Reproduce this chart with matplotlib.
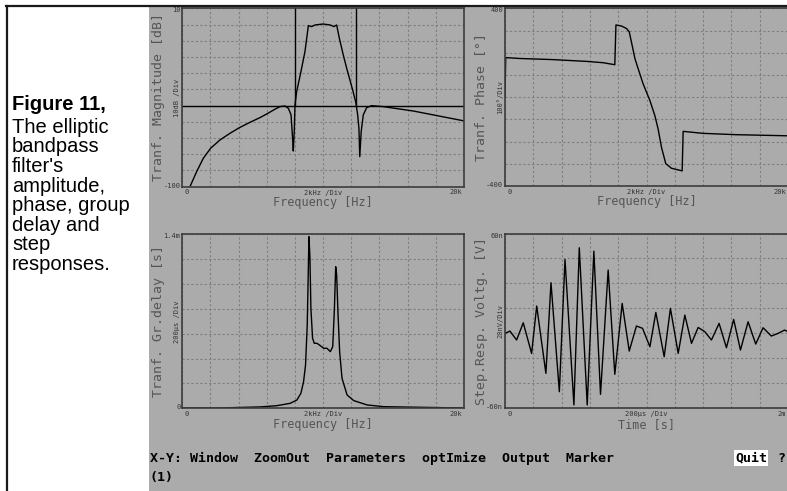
"""
Elliptic bandpass filter: magnitude, phase, group delay and step response
(recreation of an old DOS circuit simulator screen).
"""

import matplotlib.pyplot as plt
from matplotlib.transforms import offset_copy


# magnitude response, kHz / dB
MAG_F = [0.55, 1.02, 1.49, 2.01, 2.67, 3.38, 4.05, 4.8, 5.51, 6.04,
         6.58, 6.93, 7.29, 7.53, 7.72, 7.83, 7.88, 7.95, 8.0, 8.12,
         8.4, 8.71, 8.95, 9.18, 9.42, 10.0, 10.5, 10.77, 10.96, 11.15,
         11.43, 11.67, 11.9, 12.14, 12.33, 12.45, 12.54, 12.6, 12.7, 12.85,
         13.09, 13.44, 14.27, 16.4, 20.0]
MAG_DB = [-100, -90.8, -82.6, -76.4, -71.3, -67.2, -63.7, -60.4, -57.5, -55.0,
          -52.3, -50.7, -50.3, -51.7, -55.8, -70.2, -78.1, -66, -49.7, -41.4,
          -30.1, -16.7, -0.7, -1.3, -0.3, 0.3, -0.3, -1.3, -0.3, -8.5,
          -18.8, -27, -34.2, -41.9, -48.6, -55.8, -64.1, -81.6, -66.2, -55.8,
          -51.3, -50.1, -50.7, -53.4, -59.5]
# stopband template: -50 dB limit and band edges
MASK_DB = -50
MASK_EDGES = [8.0, 12.33]

# phase, kHz / degrees
PH_F = [0, 0.05, 1.06, 3.41, 5.76, 6.94, 7.76, 7.84, 8.24, 8.59,
        8.78, 9.01, 9.18, 9.41, 9.76, 10.24, 10.59, 10.82, 11.06, 11.36,
        11.76, 12.52, 12.59, 14.0, 16.35, 20]
PH_DEG = [0, 178, 174, 169, 161, 155, 146, 325, 320, 309,
          294, 226, 174, 128, 60, -15, -83, -143, -226, -299,
          -320, -332, -154, -163, -169, -174]

# group delay, kHz / ms
GD_F = [0, 2.44, 5.53, 6.71, 7.66, 8.14, 8.42, 8.61, 8.75, 8.87,
        8.94, 8.99, 9.06, 9.13, 9.25, 9.37, 9.56, 9.8, 10.04, 10.27,
        10.51, 10.68, 10.8, 10.89, 10.96, 11.05, 11.17, 11.34, 11.7, 12.17,
        13.12, 14.3, 18.6, 20]
GD_MS = [0.002, 0.002, 0.011, 0.021, 0.040, 0.067, 0.121, 0.214, 0.349, 0.670,
         1.072, 1.381, 1.22, 0.804, 0.563, 0.523, 0.523, 0.504, 0.483, 0.483,
         0.456, 0.496, 0.804, 1.139, 1.072, 0.777, 0.456, 0.241, 0.107, 0.062,
         0.027, 0.013, 0.005, 0.003]

# step response, ms / nV
STEP_T = [0, 0.035, 0.082, 0.129, 0.188, 0.224, 0.289, 0.325, 0.384, 0.424,
          0.487, 0.525, 0.581, 0.628, 0.675, 0.729, 0.776, 0.828, 0.878, 0.929,
          0.972, 1.024, 1.066, 1.125, 1.169, 1.224, 1.271, 1.318, 1.365, 1.412,
          1.459, 1.513, 1.565, 1.616, 1.664, 1.718, 1.772, 1.824, 1.882, 1.929,
          1.976, 2.0]
STEP_NV = [-8.6, -7.0, -13.1, -1.3, -22.3, 10.2, -36.0, 26.2, -48.6, 42.2,
           -57.7, 50.2, -57.7, 47.9, -50.4, 34.9, -36.7, 12.0, -20.7, -3.5,
           -5.1, -17.7, 5.8, -24.6, 8.6, -22.3, 4.0, -15.4, -4.5, -7.4,
           -13.1, -1.7, -18.4, 1.0, -20.0, -0.6, -15.9, -4.7, -10.4, -8.6,
           -6.3, -7.4]

CAPTION = ["Figure 11,", "The elliptic", "bandpass", "filter's", "amplitude,",
           "phase, group", "delay and", "step", "responses."]
MENU = "X-Y: Window  ZoomOut  Parameters  optImize  Output  Marker"

W, H = 787, 491
SCREEN = "#ababab"
INK = "#555555"
MONO = "DejaVu Sans Mono"


def fx(x):
    return x / W


def fy(y):
    return 1 - y / H


def panel(fig, box, xlim, ylim, nx, ny, labels):
    x0, y0, x1, y1 = box
    ax = fig.add_axes([fx(x0), fy(y1), (x1 - x0) / W, (y1 - y0) / H])
    ax.set_facecolor(SCREEN)
    ax.set_xlim(xlim)
    ax.set_ylim(ylim)
    ax.set_xticks([xlim[0] + i * (xlim[1] - xlim[0]) / nx for i in range(nx + 1)])
    ax.set_yticks([ylim[0] + i * (ylim[1] - ylim[0]) / ny for i in range(ny + 1)])
    ax.tick_params(length=0, labelbottom=False, labelleft=False)
    ax.grid(True, color="#7e7e7e", linestyle=(0, (2, 2)), linewidth=0.8)
    for s in ax.spines.values():
        s.set_color("#3c3c3c")
        s.set_linewidth(1.2)

    ytop, ybot, xleft, xright, ydiv, xdiv, xlab, ylab = labels

    def at(dx, dy):
        return offset_copy(ax.transAxes, fig=fig, x=dx, y=dy, units="dots")

    small = dict(fontsize=5, color="#333333", family=MONO)
    ax.text(0, 1, ytop, transform=at(-2, -2), ha="right", va="center", **small)
    ax.text(0, 0, ybot, transform=at(-2, 1), ha="right", va="center", **small)
    ax.text(0, 0, xleft, transform=at(2, -6), ha="left", va="center", **small)
    ax.text(1, 0, xright, transform=at(-2, -6), ha="right", va="center", **small)
    ax.text(0.5, 0, xdiv, transform=at(0, -6), ha="center", va="center", **small)
    ax.text(0, 0.5, ydiv, transform=at(-5, 0), ha="center", va="center",
            rotation=90, **small)
    ax.text(0.5, 0, xlab, transform=at(0, -16), ha="center", va="center",
            fontsize=8.5, color=INK, family=MONO)
    ax.text(0, 0.5, ylab, transform=at(-24, 0), ha="center", va="center",
            rotation=90, fontsize=9.5, color=INK, family=MONO)
    return ax


fig = plt.figure(figsize=(W / 100, H / 100), dpi=100)
fig.patch.set_facecolor("white")

# simulator screen and page frame
fig.add_artist(plt.Rectangle((fx(149), 0), 1 - fx(149), fy(6), transform=fig.transFigure,
                             facecolor=SCREEN, edgecolor="none", zorder=0))
fig.add_artist(plt.Line2D([fx(7), fx(7)], [0, fy(6)], transform=fig.transFigure,
                          color="#1a1a1a", linewidth=1.6))
fig.add_artist(plt.Line2D([fx(6), 1], [fy(6), fy(6)], transform=fig.transFigure,
                          color="#1a1a1a", linewidth=1.6))

# caption
fig.text(fx(12), fy(110), CAPTION[0], fontsize=14.5, fontweight="bold",
         family="Liberation Sans", va="baseline")
for i, line in enumerate(CAPTION[1:]):
    fig.text(fx(12), fy(133 + 19.5 * i), line, fontsize=14.5,
             family="Liberation Sans", va="baseline")

ax1 = panel(fig, (182.3, 8.3, 464, 186.5), (0, 20), (-100, 10), 10, 11,
            ["10", "-100", "0", "20k", "10dB /Div", "2kHz /Div",
             "Frequency [Hz]", "Tranf. Magnitude [dB]"])
ax1.axhline(MASK_DB, color="black", linewidth=1.0)
for edge in MASK_EDGES:
    ax1.plot([edge, edge], [MASK_DB, 10], color="black", linewidth=1.0)
ax1.plot(MAG_F, MAG_DB, color="black", linewidth=1.0)

ax2 = panel(fig, (505, 8.3, 788, 186), (0, 20), (-400, 400), 10, 8,
            ["400", "-400", "0", "20k", "100°/Div", "2kHz /Div",
             "Frequency [Hz]", "Tranf. Phase [°]"])
ax2.plot(PH_F, PH_DEG, color="black", linewidth=1.0)

ax3 = panel(fig, (182.3, 234.3, 464, 408.3), (0, 20), (0, 1.4), 10, 7,
            ["1.4m", "0", "0", "20k", "200µs /Div", "2kHz /Div",
             "Frequency [Hz]", "Tranf. Gr.delay [s]"])
ax3.plot(GD_F, GD_MS, color="black", linewidth=1.0)

ax4 = panel(fig, (505, 233.5, 788, 408.3), (0, 2), (-60, 60), 10, 7,
            ["60n", "-60n", "0", "2m", "20nV/Div", "200µs /Div",
             "Time [s]", "Step.Resp. Voltg. [V]"])
ax4.plot(STEP_T, STEP_NV, color="black", linewidth=1.0)

# menu bar
menu = dict(fontsize=9.5, fontweight="bold", family=MONO, va="center", ha="left")
fig.text(fx(150), fy(458), MENU, **menu)
fig.text(fx(735), fy(458), "Quit",
         bbox=dict(facecolor="white", edgecolor="none", pad=0.8), **menu)
fig.text(fx(777), fy(458), "?", **menu)
fig.text(fx(150), fy(477), "(1)", **menu)

fig.savefig("out.png", dpi=100)
